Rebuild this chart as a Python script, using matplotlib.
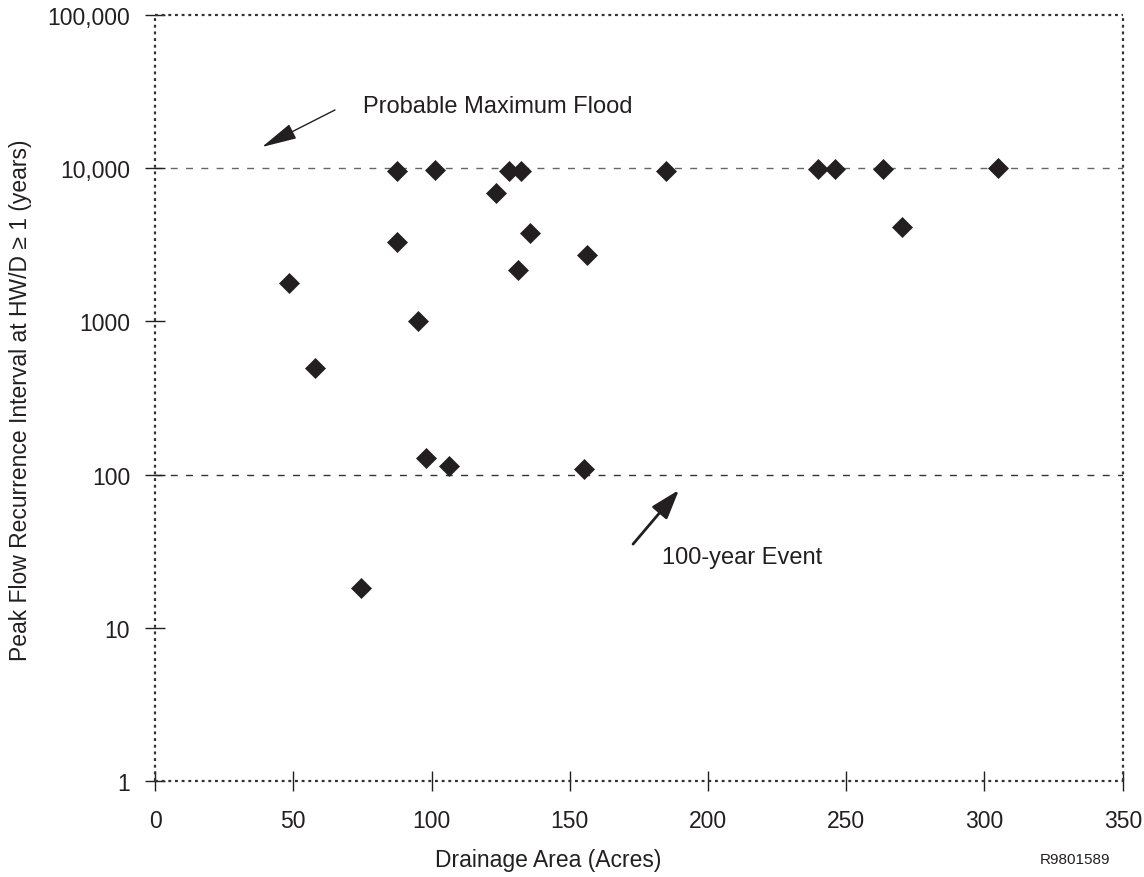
import matplotlib
matplotlib.use("Agg")
import matplotlib.pyplot as plt
from matplotlib.ticker import FixedLocator, FixedFormatter, NullLocator

plt.rcParams['font.family'] = ['Liberation Sans', 'DejaVu Sans']

# Data
drainage_area = [48.5, 57.9, 74.5, 87.4, 87.4, 95.1, 97.9, 106.2, 101.3, 123.5,
                 128.1, 132.2, 131.3, 135.6, 155.3, 156.3, 184.8, 239.8, 245.9,
                 263.4, 270.0, 304.8]
recurrence = [1780, 500, 18.2, 9600, 3310, 1010, 128, 114, 9780, 6850,
              9600, 9600, 2177, 3758, 109, 2715, 9600, 9880, 9880,
              9880, 4150, 10000]

x_ticks = [0, 50, 100, 150, 200, 250, 300, 350]
y_ticks = [1, 10, 100, 1000, 10000, 100000]
y_tick_labels = ["1", "10", "100", "1000", "10,000", "100,000"]
ref_lines = [10000, 100]
ref_colors = ['#666666', '#333333']

FS = 16.5
TXT = '#231f20'

fig = plt.figure(figsize=(11.44, 8.78), dpi=100)
ax = fig.add_axes([0.1355, 0.1093, 0.8459, 0.8725])

ax.set_yscale('log')
ax.set_xlim(0, 350)
ax.set_ylim(1, 100000)

for yv, c in zip(ref_lines, ref_colors):
    ax.axhline(yv, color=c, lw=1.0, ls=(0, (5, 6)), zorder=1)

ax.plot(drainage_area, recurrence, ls='none', marker='D', ms=9.7,
        mfc=TXT, mec=TXT, mew=0.5, zorder=3)

ax.xaxis.set_major_locator(FixedLocator(x_ticks))
ax.yaxis.set_major_locator(FixedLocator(y_ticks))
ax.yaxis.set_major_formatter(FixedFormatter(y_tick_labels))
ax.yaxis.set_minor_locator(NullLocator())
ax.tick_params(axis='both', direction='inout', length=14, width=1.0,
               color=TXT, labelsize=FS, labelcolor=TXT)
ax.tick_params(axis='x', pad=13)
ax.tick_params(axis='y', pad=11)

for s in ax.spines.values():
    s.set_linestyle((0, (1.3, 1.7)))
    s.set_linewidth(1.6)
    s.set_color('#333333')
    s.set_capstyle('butt')

fig.text(21 / 1144, 1 - 400 / 878,
         "Peak Flow Recurrence Interval at HW/D \u2265 1 (years)",
         fontsize=FS, color=TXT, rotation=90, ha='center', va='center')
fig.text(548 / 1144, 1 - 861 / 878, "Drainage Area (Acres)", fontsize=FS,
         color=TXT, ha='center', va='center')
fig.text(1110 / 1144, 1 - 860 / 878, "R9801589", fontsize=11,
         color=TXT, ha='right', va='center')

ax.annotate("", xy=(38.7, 13750), xytext=(65.1, 24000),
            arrowprops=dict(arrowstyle='-|>,head_length=2.2,head_width=0.5',
                            color=TXT, lw=1.0, shrinkA=0, shrinkB=0))
ax.text(75.3, 25500, "Probable Maximum Flood", fontsize=17, color=TXT,
        ha='left', va='center')

ax.annotate("", xy=(189.5, 79.4), xytext=(172.9, 35.2),
            arrowprops=dict(arrowstyle='-|>,head_length=1.8,head_width=0.6',
                            color=TXT, lw=2.0, shrinkA=0, shrinkB=0))
ax.text(183.4, 29, "100-year Event", fontsize=17, color=TXT,
        ha='left', va='center')

fig.savefig("out.png", dpi=100)
